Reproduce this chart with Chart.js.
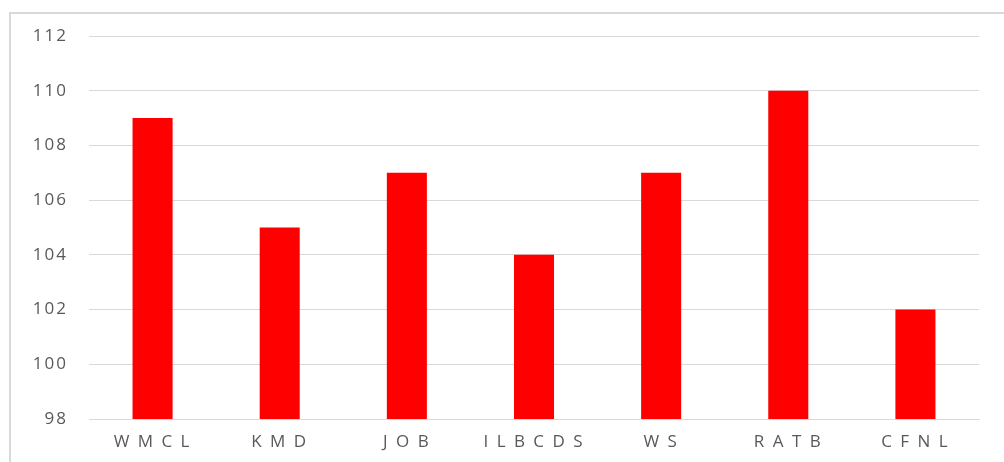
<!DOCTYPE html>
<html>
<head>
<meta charset="utf-8">
<script src="https://cdn.jsdelivr.net/npm/chart.js@4"></script>
<style>
  html, body { margin: 0; padding: 0; background: #fff; }
  #wrap { position: relative; width: 1004px; height: 462px; }
</style>
</head>
<body>
<div id="wrap"><canvas id="chart" width="1004" height="462"></canvas></div>
<script>
const categories = ["WMCL", "KMD", "JOB", "ILBCDS", "WS", "RATB", "CFNL"];
const values = [109, 105, 107, 104, 107, 110, 102];
const yTicks = [98, 100, 102, 104, 106, 108, 110, 112];

const textColor = "#595959";
const gridColor = "#d9d9d9";

// frame around the chart plus letter spacing for all texts
const framePlugin = {
  id: "frame",
  beforeDraw(chart) {
    const ctx = chart.ctx;
    ctx.letterSpacing = "2px";
    ctx.save();
    ctx.strokeStyle = gridColor;
    ctx.lineWidth = 2;
    ctx.strokeRect(10, 13, 1010, 470);
    ctx.restore();
  },
};

const ctx = document.getElementById("chart").getContext("2d");

new Chart(ctx, {
  type: "bar",
  data: {
    labels: categories,
    datasets: [
      {
        data: values,
        backgroundColor: "#ff0000",
        borderWidth: 0,
        barPercentage: 0.63,
        categoryPercentage: 0.5,
      },
    ],
  },
  options: {
    responsive: false,
    animation: false,
    layout: { padding: { left: 0, top: 36, right: 25, bottom: 0 } },
    plugins: {
      legend: { display: false },
      tooltip: { enabled: false },
    },
    scales: {
      x: {
        grid: { display: false, drawTicks: false },
        border: { display: true, color: gridColor, width: 1 },
        ticks: {
          color: textColor,
          font: { family: "'Open Sans'", size: 17 },
          padding: 13,
          maxRotation: 0,
          callback(value) {
            return categories[value].split("").join(" ");
          },
        },
        afterFit(scale) {
          scale.height = 43;
        },
      },
      y: {
        min: 98,
        max: 112,
        grid: { color: gridColor, lineWidth: 1, drawTicks: false },
        border: { display: false },
        afterBuildTicks(scale) {
          scale.ticks = yTicks.map((v) => ({ value: v }));
        },
        ticks: {
          color: textColor,
          font: { family: "'Open Sans'", size: 17 },
          padding: 21,
        },
        afterFit(scale) {
          scale.width = 89;
        },
      },
    },
  },
  plugins: [framePlugin],
});
</script>
</body>
</html>
